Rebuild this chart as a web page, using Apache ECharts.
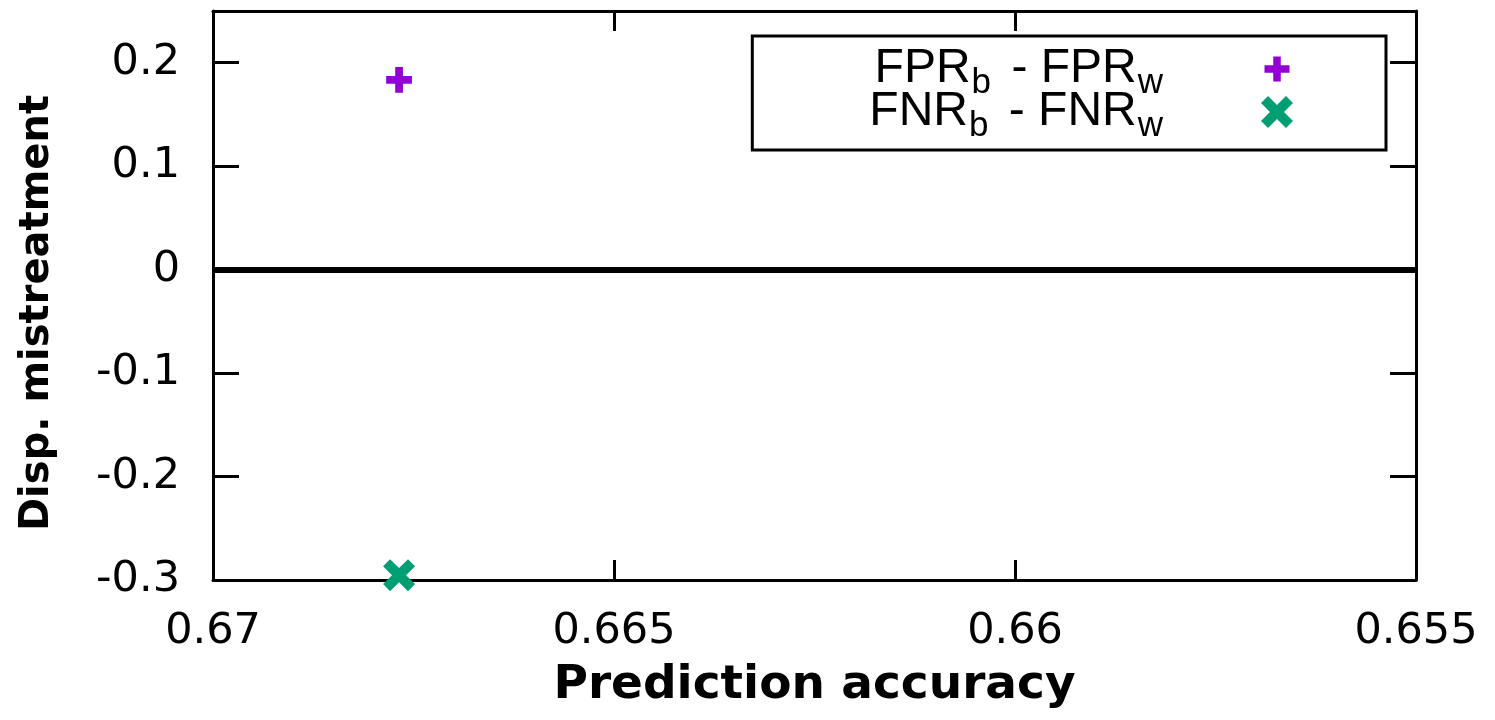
<!DOCTYPE html>
<html><head><meta charset="utf-8">
<script src="https://cdn.jsdelivr.net/npm/echarts@6/dist/echarts.min.js"></script>
<style>html,body{margin:0;padding:0;background:#fff}#c{width:1495px;height:720px}</style>
</head><body><div id="c"></div>
<script>
// ---- data ----
const accuracy = [0.66768];
const fprDiff = [0.1835];
const fnrDiff = [-0.2953];
const seriesNames = ['FPR_b - FPR_w', 'FNR_b - FNR_w'];
const xTicks = [0.67, 0.665, 0.66, 0.655];
const xTickLabels = ['0.67', '0.665', '0.66', '0.655'];
const yTicks = [-0.3, -0.2, -0.1, 0, 0.1, 0.2];
const yTickLabels = ['-0.3', '-0.2', '-0.1', '0', '0.1', '0.2'];

// ---- styles ----
const plusPath = 'path://M0,0M32,32M12.25,3.5H19.75V12.25H28.5V19.75H19.75V28.5H12.25V19.75H3.5V12.25H12.25Z';
const crossPath = 'path://M0,2.2L2.2,0L5,2.8L7.8,0L10,2.2L7.2,5L10,7.8L7.8,10L5,7.2L2.2,10L0,7.8L2.8,5Z';
const tickFont = 'DejaVu Sans';

function pick(ticks, labels) {
  return function (v) {
    for (let i = 0; i < ticks.length; i++) if (Math.abs(v - ticks[i]) < 1e-7) return labels[i];
    return '';
  };
}
function legendFmt(name) {
  const parts = name.split(/_(\w)/);
  let s = '{h|\u200b}';
  parts.forEach((p, i) => { if (p) s += (i % 2 === 0 ? '{m|' : '{s|') + p + '}'; });
  return s;
}

const axisLine = { show: true, onZero: false, lineStyle: { color: '#000', width: 3 } };
const xBase = { type: 'value', inverse: true, min: 0.655, max: 0.67, interval: 0.005, splitLine: { show: false } };
const yBase = { type: 'value', min: -0.3, max: 0.25, interval: 0.1, splitLine: { show: false } };

const chart = echarts.init(document.getElementById('c'));
chart.setOption({
  animation: false,
  backgroundColor: '#fff',
  grid: { left: 213, right: 79, top: 11, bottom: 140, containLabel: false },
  xAxis: [
    Object.assign({}, xBase, {
      position: 'bottom', axisLine,
      axisTick: { show: true, inside: true, length: 20, lineStyle: { color: '#000', width: 3 } },
      axisLabel: { margin: 30, fontFamily: tickFont, fontSize: 43, lineHeight: 43, color: '#000', formatter: pick(xTicks, xTickLabels) },
      name: 'Prediction accuracy', nameLocation: 'middle', nameGap: 82,
      nameTextStyle: { fontFamily: 'DejaVu Sans', fontWeight: 'bold', fontSize: 47, lineHeight: 47, color: '#000' }
    }),
    Object.assign({}, xBase, {
      position: 'top', axisLine,
      axisTick: { show: true, inside: true, length: 20, lineStyle: { color: '#000', width: 3 } },
      axisLabel: { show: false }
    })
  ],
  yAxis: [
    Object.assign({}, yBase, {
      position: 'left', axisLine,
      axisTick: { show: true, inside: true, length: 26, lineStyle: { color: '#000', width: 3 } },
      axisLabel: { margin: 33, fontFamily: tickFont, fontSize: 43, color: '#000', formatter: pick(yTicks, yTickLabels) },
      name: 'Disp. mistreatment', nameLocation: 'middle', nameGap: 155,
      nameTextStyle: { fontFamily: 'DejaVu Sans', fontWeight: 'bold', fontSize: 40, lineHeight: 40, color: '#000', padding: [0, 35, 0, 0] }
    }),
    Object.assign({}, yBase, {
      position: 'right', axisLine,
      axisTick: { show: true, inside: true, length: 26, lineStyle: { color: '#000', width: 3 } },
      axisLabel: { show: false }
    })
  ],
  legend: {
    orient: 'vertical', right: 109, top: 36, align: 'right',
    itemWidth: 32, itemHeight: 32, itemGap: -13,
    selectedMode: false,
    borderColor: '#000', borderWidth: 3, borderRadius: 0, backgroundColor: '#fff',
    padding: [9, 93, 6, 117],
    formatter: legendFmt,
    textStyle: {
      color: '#000', padding: [8, 86, 0, 0],
      rich: {
        h: { fontSize: 1, lineHeight: 56, verticalAlign: 'top' },
        m: { fontFamily: 'Liberation Sans', fontSize: 48, lineHeight: 48, color: '#000', verticalAlign: 'top' },
        s: { fontFamily: 'Liberation Sans', fontSize: 35, lineHeight: 35, color: '#000', verticalAlign: 'bottom', padding: [0, 7, 0, 1] }
      }
    },
    data: seriesNames
  },
  series: [
    {
      name: seriesNames[0], type: 'scatter', xAxisIndex: 0, yAxisIndex: 0,
      symbol: plusPath, symbolSize: 33, itemStyle: { color: '#9400d3', opacity: 1 },
      data: accuracy.map((x, i) => [x, fprDiff[i]]),
      markLine: {
        silent: true, symbol: 'none', label: { show: false },
        lineStyle: { color: '#000', width: 6, type: 'solid' },
        emphasis: { disabled: true },
        data: [{ yAxis: 0 }]
      }
    },
    {
      name: seriesNames[1], type: 'scatter', xAxisIndex: 0, yAxisIndex: 0,
      symbol: crossPath, symbolSize: 32, itemStyle: { color: '#009e73', opacity: 1 },
      data: accuracy.map((x, i) => [x, fnrDiff[i]])
    }
  ]
});
</script>
</body></html>
